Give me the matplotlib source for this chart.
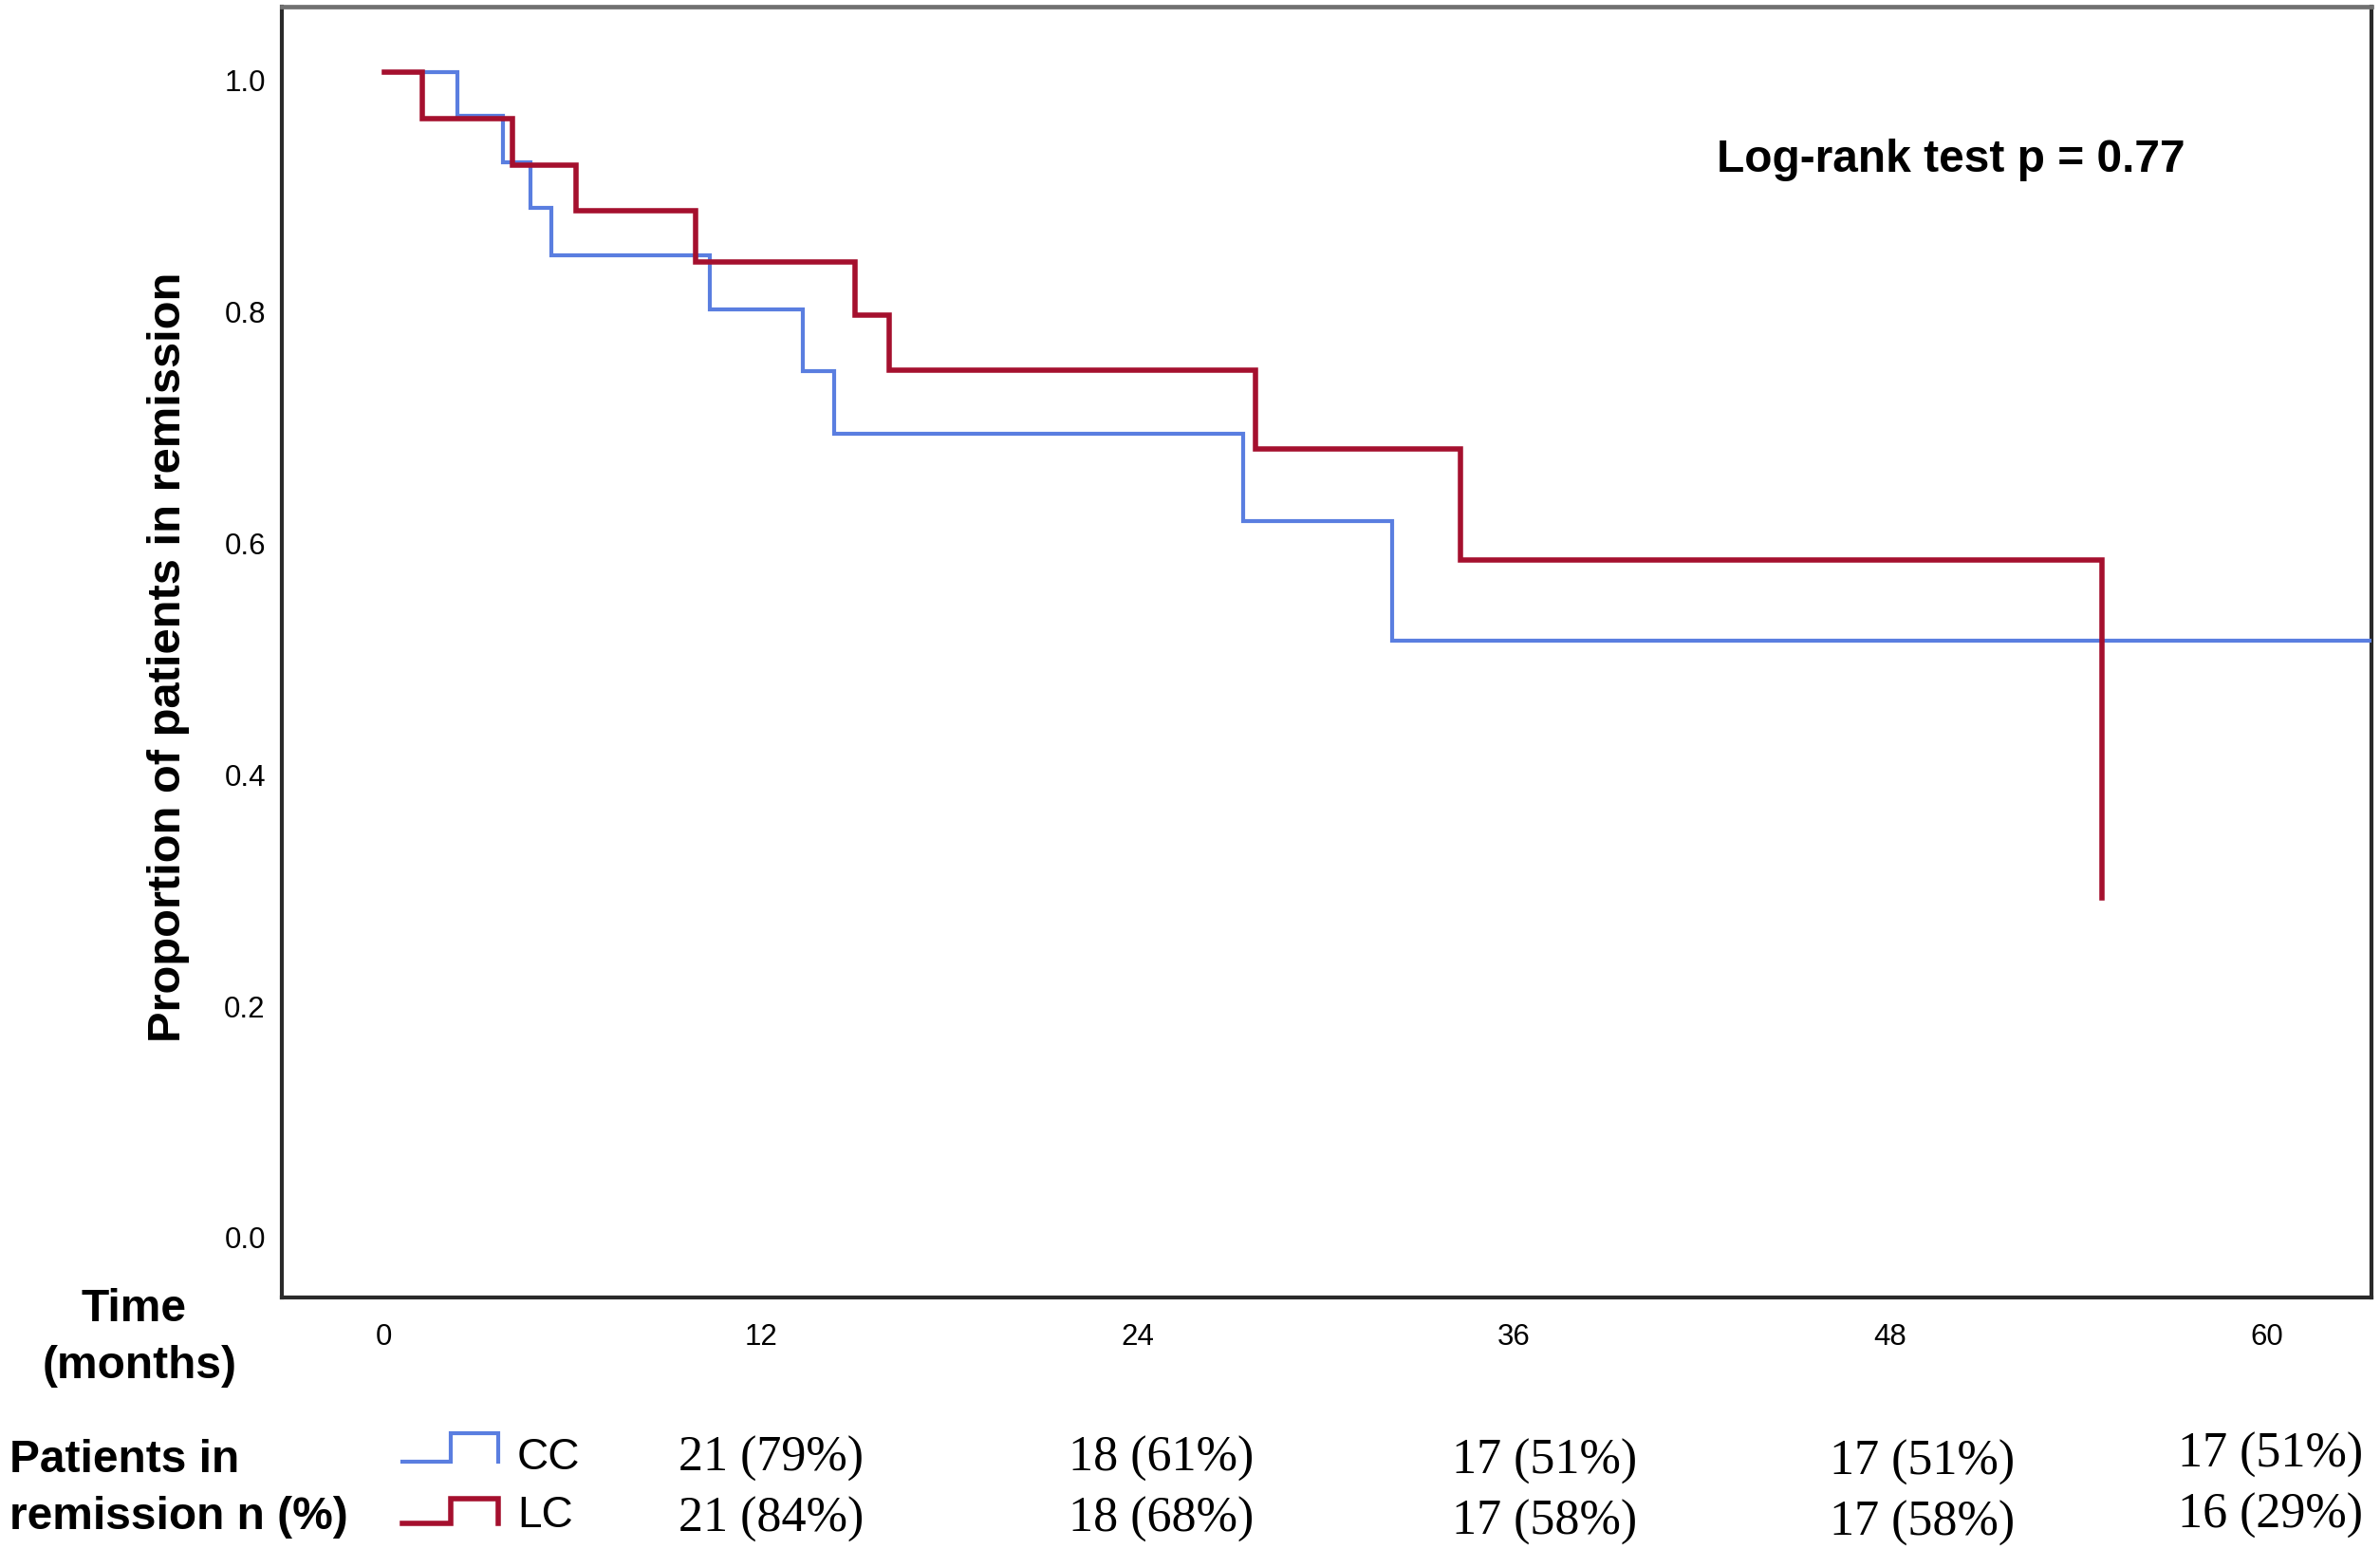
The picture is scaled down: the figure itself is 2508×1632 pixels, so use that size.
import matplotlib
matplotlib.use('Agg')
import matplotlib.pyplot as plt
from matplotlib.lines import Line2D
import matplotlib.transforms as mtransforms
from matplotlib import font_manager as fm

# ---------------- data ----------------
cc_times = [0, 2.33, 3.80, 4.67, 5.32, 10.38, 13.35, 14.33, 27.37, 32.13, 64.0]
cc_surv = [1.0, 0.962, 0.922, 0.883, 0.842, 0.795, 0.742, 0.688, 0.612, 0.509, 0.509]
lc_times = [0, 1.23, 4.09, 6.12, 9.94, 15.02, 16.08, 27.77, 34.29, 54.74]
lc_surv = [1.0, 0.960, 0.920, 0.880, 0.836, 0.790, 0.743, 0.675, 0.579, 0.287]

x_ticks = [0, 12, 24, 36, 48, 60]
y_ticks = [0.0, 0.2, 0.4, 0.6, 0.8, 1.0]
y_tick_labels = ['0.0', '0.2', '0.4', '0.6', '0.8', '1.0']
groups = ['CC', 'LC']
risk_times = [12, 24, 36, 48, 60]
cc_risk = ['21 (79%)', '18 (61%)', '17 (51%)', '17 (51%)', '17 (51%)']
lc_risk = ['21 (84%)', '18 (68%)', '17 (58%)', '17 (58%)', '16 (29%)']
p_text = 'Log-rank test p = 0.77'
y_label = 'Proportion of patients in remission'

# ---------------- style ----------------
W, H = 2508, 1633
DPI = 100
BLUE = '#5a7ee0'
RED = '#a5102e'


def fx(px):
    return px / W


def fy(py):
    return 1 - py / H


avail = {f.name for f in fm.fontManager.ttflist}
if 'Liberation Sans Narrow' in avail:
    NARROW = ['Liberation Sans Narrow', 'DejaVu Sans']
    ytick_size = 26.5
    xtick_size = 26.5
else:
    NARROW = ['Liberation Sans', 'DejaVu Sans']
    ytick_size = 22.5
    xtick_size = 22.5
SANS = ['Liberation Sans', 'DejaVu Sans']
SERIF = ['Liberation Serif', 'DejaVu Serif']

fig = plt.figure(figsize=(W / DPI, H / DPI), dpi=DPI)
fig.patch.set_facecolor('white')

left, right, top, bottom = 296.5, 2499, 8, 1368
ax = fig.add_axes([fx(left), fy(bottom), (right - left) / W, (bottom - top) / H])

ax.step(cc_times, cc_surv, where='post', color=BLUE, lw=3.0, solid_joinstyle='miter', zorder=3)
ax.step(lc_times, lc_surv, where='post', color=RED, lw=4.0, solid_joinstyle='miter', zorder=4)

ax.set_xlim(-3.275, 63.33)
ax.set_ylim(-0.0582, 1.0566)

ax.set_xticks(x_ticks)
ax.set_xticklabels([str(t) for t in x_ticks], fontfamily=NARROW, fontsize=xtick_size)
ax.set_yticks(y_ticks)
ax.set_yticklabels(y_tick_labels, fontfamily=NARROW, fontsize=ytick_size)
ax.tick_params(axis='both', length=0)
ax.tick_params(axis='y', pad=12)
ax.tick_params(axis='x', pad=19)

offset = mtransforms.ScaledTranslation(0, -7 / DPI, fig.dpi_scale_trans)
for lab in ax.get_yticklabels():
    lab.set_transform(lab.get_transform() + offset)

for side in ['left', 'bottom', 'right']:
    ax.spines[side].set_linewidth(3.0)
    ax.spines[side].set_color('#2a2a2a')
ax.spines['top'].set_linewidth(3.4)
ax.spines['top'].set_color('#707070')

# log-rank annotation
ax.text(42.45, 0.925, p_text, fontfamily=SANS, fontweight='bold', fontsize=34.5,
        ha='left', va='center')

# axis labels
fig.text(fx(178), fy(692), y_label, rotation=90, ha='center', va='center',
         fontfamily=SANS, fontweight='bold', fontsize=35.2)
fig.text(fx(140.5), fy(1380), 'Time', ha='center', va='center',
         fontfamily=SANS, fontweight='bold', fontsize=34.5)
fig.text(fx(147), fy(1440), '(months)', ha='center', va='center',
         fontfamily=SANS, fontweight='bold', fontsize=34.5)
fig.text(fx(10), fy(1539), 'Patients in', ha='left', va='center',
         fontfamily=SANS, fontweight='bold', fontsize=34.5)
fig.text(fx(10), fy(1599), 'remission n (%)', ha='left', va='center',
         fontfamily=SANS, fontweight='bold', fontsize=34.5)

# legend step icons + group names
icon_rows = [(1541, 1511, 1536, BLUE, 3.0), (1606, 1580, 1597, RED, 4.0)]
for (ylo, yhi, ytxt, col, lw), name in zip(icon_rows, groups):
    xs = [fx(424), fx(475), fx(475), fx(524.5), fx(524.5)]
    ys = [fy(ylo), fy(ylo), fy(yhi), fy(yhi), fy(ylo)]
    fig.add_artist(Line2D(xs, ys, color=col, lw=lw, transform=fig.transFigure,
                          solid_joinstyle='miter'))
    fig.text(fx(545), fy(ytxt), name, ha='left', va='center',
             fontfamily=SANS, fontsize=33)

# numbers in remission table
blend = mtransforms.blended_transform_factory(ax.transData, fig.transFigure)
risk_dx = [0.33, 0.77, 0.99, 1.01, 0.11]
row_dy = [0, 0, 3, 4, -4]
for t, dx, dy, a, b in zip(risk_times, risk_dx, row_dy, cc_risk, lc_risk):
    ax.text(t + dx, fy(1537 + dy), a, transform=blend, ha='center', va='center',
            fontfamily=SERIF, fontsize=37.5, clip_on=False)
    ax.text(t + dx, fy(1601 + dy), b, transform=blend, ha='center', va='center',
            fontfamily=SERIF, fontsize=37.5, clip_on=False)

fig.savefig('out.png', dpi=DPI, facecolor='white')
